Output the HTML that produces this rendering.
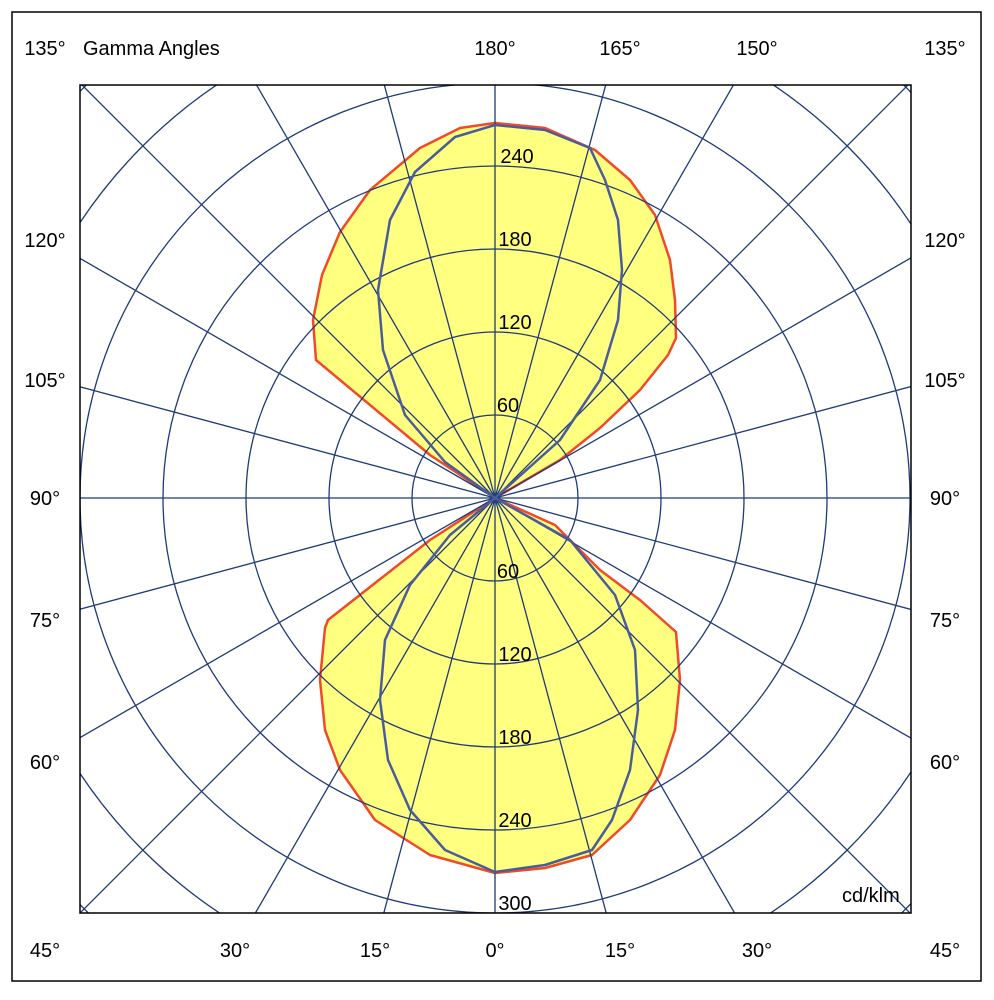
<!DOCTYPE html><html><head><style>html,body{margin:0;background:#fff;overflow:hidden;width:994px;height:1000px}svg{display:block}text{font-family:"Liberation Sans",sans-serif;font-size:20px;fill:#000}</style></head><body>
<svg width="994" height="1000" viewBox="0 0 994 1000">
<rect x="12" y="12" width="969" height="969" fill="#fff" stroke="#000" stroke-width="1.5"/>
<defs><clipPath id="c"><rect x="80" y="85" width="831" height="828"/></clipPath></defs>
<g clip-path="url(#c)">
<path fill="#ffff80" stroke="#f04a2a" stroke-width="2.5" stroke-linejoin="round" d="M495,498 L430,455 L316,360 L313,320 L322,275 L340,232 L370,190 L420,148 L460,128 L495,123 L545,128 L595,150 L630,180 L655,215 L670,260 L675,300 L676,338 L668,355 L640,390 L600,428 L560,460 Z"/>
<path fill="#ffff80" stroke="#f04a2a" stroke-width="2.5" stroke-linejoin="round" d="M495,498 L430,540 L328,620 L325,628 L320,680 L325,730 L340,770 L375,820 L430,855 L495,873 L545,868 L592,855 L630,820 L660,775 L675,730 L680,680 L676,632 L640,600 L600,570 L555,525 Z"/>
<g stroke="#1f3a78" stroke-width="1.3" fill="none">
<circle cx="495" cy="498" r="83"/><circle cx="495" cy="498" r="166"/><circle cx="495" cy="498" r="249"/><circle cx="495" cy="498" r="332"/><circle cx="495" cy="498" r="415"/><circle cx="495" cy="498" r="498"/><circle cx="495" cy="498" r="581"/>
<g id="l"><line x1="495" y1="498" x2="495" y2="-300"/><line x1="495" y1="498" x2="495" y2="-300" transform="rotate(15 495 498)"/><line x1="495" y1="498" x2="495" y2="-300" transform="rotate(30 495 498)"/><line x1="495" y1="498" x2="495" y2="-300" transform="rotate(45 495 498)"/><line x1="495" y1="498" x2="495" y2="-300" transform="rotate(60 495 498)"/><line x1="495" y1="498" x2="495" y2="-300" transform="rotate(75 495 498)"/></g>
<use href="#l" transform="rotate(90 495 498)"/><use href="#l" transform="rotate(180 495 498)"/><use href="#l" transform="rotate(270 495 498)"/>
</g>
<g stroke="#4a5c9a" stroke-width="2.5" fill="none" stroke-linejoin="round">
<path d="M495,498 L560,440 L600,380 L618,320 L622,270 L618,220 L605,180 L590,148 L545,130 L495,125 L455,137 L415,172 L390,220 L378,290 L383,350 L405,415 L445,462 Z"/>
<path d="M495,498 L570,540 L615,595 L635,650 L638,710 L630,770 L612,820 L592,850 L545,865 L495,872 L445,850 L410,810 L388,760 L380,700 L385,640 L410,585 L450,535 Z"/>
</g>
</g>
<rect x="80" y="85" width="831" height="828" fill="none" stroke="#000" stroke-width="1.5"/>
<g text-anchor="middle">
<text x="45" y="55">135°</text><text x="495" y="55">180°</text><text x="620" y="55">165°</text><text x="757" y="55">150°</text><text x="945" y="55">135°</text>
<text x="45" y="247">120°</text><text x="45" y="387">105°</text><text x="45" y="505">90°</text><text x="45" y="627">75°</text><text x="45" y="769">60°</text>
<text x="945" y="247">120°</text><text x="945" y="387">105°</text><text x="945" y="505">90°</text><text x="945" y="627">75°</text><text x="945" y="769">60°</text>
<text x="45" y="957">45°</text><text x="235" y="957">30°</text><text x="375" y="957">15°</text><text x="495" y="957">0°</text><text x="620" y="957">15°</text><text x="757" y="957">30°</text><text x="945" y="957">45°</text>
<text x="517" y="163">240</text><text x="515" y="246">180</text><text x="515" y="329">120</text><text x="508" y="412">60</text>
<text x="508" y="578">60</text><text x="515" y="661">120</text><text x="515" y="744">180</text><text x="515" y="827">240</text><text x="515" y="910">300</text>
</g>
<text x="83" y="55">Gamma Angles</text>
<text x="842" y="902">cd/klm</text>
</svg></body></html>
